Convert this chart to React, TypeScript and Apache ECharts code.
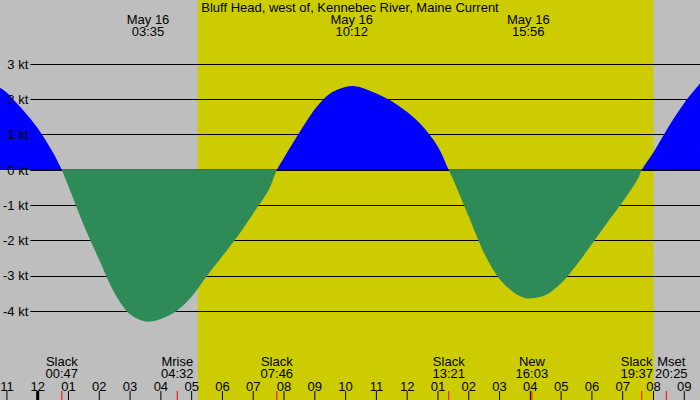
import { useEffect, useRef } from 'react'
import * as echarts from 'echarts'

const title = 'Bluff Head, west of, Kennebec River, Maine Current'
const dateLabel = 'May 16'

// current speed in knots, read off every half hour plus slacks and extremes
// hours are counted from midnight of May 16 (negative = May 15)
const flowHours = [
  -1.224, -1, -0.5, 0, 0.5, 0.783, 1, 1.5, 2, 2.5, 3, 3.583, 4, 4.5, 5, 5.5, 6, 6.5, 7, 7.5, 7.767, 8, 8.5, 9, 9.5,
  10.2, 10.5, 11, 11.5, 12, 12.5, 13, 13.35, 13.5, 14, 14.5, 15, 15.5, 15.933, 16.5, 17, 17.5, 18, 18.5, 19, 19.5,
  19.617, 20, 20.5, 21, 21.51,
]
const flowKnots = [
  2.33, 2.19, 1.72, 1.18, 0.49, 0, -0.47, -1.57, -2.55, -3.49, -4.09, -4.3, -4.22, -4.0, -3.59, -3.0, -2.44, -1.87,
  -1.23, -0.57, 0, 0.35, 1.06, 1.72, 2.17, 2.38, 2.34, 2.17, 1.95, 1.64, 1.24, 0.66, 0, -0.28, -1.32, -2.36, -3.09,
  -3.49, -3.64, -3.54, -3.21, -2.69, -2.1, -1.49, -0.9, -0.24, 0, 0.5, 1.24, 1.9, 2.45,
]

const extremeTimes = ['03:35', '10:12', '15:56']
const eventNames = ['Slack', 'Mrise', 'Slack', 'Slack', 'New', 'Slack', 'Mset']
const eventTimes = ['00:47', '04:32', '07:46', '13:21', '16:03', '19:37', '20:25']
const daylight = ['05:12', '20:00']

const hourTicks = [-1, 0, 1, 2, 3, 4, 5, 6, 7, 8, 9, 10, 11, 12, 13, 14, 15, 16, 17, 18, 19, 20, 21]
const hourTickLabels = [
  '11', '12', '01', '02', '03', '04', '05', '06', '07', '08', '09', '10',
  '11', '12', '01', '02', '03', '04', '05', '06', '07', '08', '09',
]

const W = 700
const H = 400
const GREY = '#bebebe'
const DAY = '#cccc00'
const FLOOD = '#0000ff'
const EBB = '#2e8b57'
const CLEAR = 'rgba(0,0,0,0)'
const FONT = "'Liberation Sans', Arial, Helvetica, sans-serif"

// layout: px per hour / knot, and where 00:00 and 0 kt sit
const PX_HOUR = 30.79
const X0 = 37.7
const PX_KT = 35.29
const Y0 = 170

// crowded labels get pushed apart a little
const eventLabelNudge: Record<number, number> = { 5: -5, 6: 5 }

function toHours(t: string): number {
  const [h, m] = t.split(':').map(Number)
  return h + m / 60
}

function txt(text: string, x: number, y: number) {
  return {
    type: 'text',
    x,
    y,
    style: {
      text,
      align: 'center',
      verticalAlign: 'middle',
      lineHeight: 12,
      fill: '#000',
      fontSize: 13,
      fontFamily: FONT,
    },
  }
}

// fill split at the 0 kt line (grid 0 spans the whole canvas)
function splitFill(above: string, below: string) {
  const o = Y0 / H
  return {
    type: 'linear',
    x: 0,
    y: 0,
    x2: 0,
    y2: H,
    global: true,
    colorStops: [
      { offset: 0, color: above },
      { offset: o, color: above },
      { offset: o, color: below },
      { offset: 1, color: below },
    ],
  }
}

export default function App() {
  const hostRef = useRef<HTMLDivElement | null>(null)

  useEffect(() => {
    document.body.style.margin = '0'
    const host = hostRef.current
    if (!host) return
    const chart = echarts.init(host, undefined, { renderer: 'svg' })

    const flow = flowHours.map((h, i) => [h, flowKnots[i]])
    // kind: 0 hour tick, 1 event tick (red), 2 midnight
    const ticks = [
      ...hourTicks.map((h) => [h, h === 0 ? 2 : 0]),
      ...eventTimes.map((t) => [toHours(t), 1]),
    ]

    const area = (z: number, fill: object) => ({
      type: 'line',
      z,
      silent: true,
      xAxisIndex: 0,
      yAxisIndex: 0,
      data: flow,
      smooth: 0.3,
      showSymbol: false,
      lineStyle: { opacity: 0 },
      areaStyle: { opacity: 1, color: fill },
    })

    chart.setOption({
      animation: false,
      backgroundColor: GREY,
      grid: [
        { left: 0, right: 0, top: 0, bottom: 0 },
        { left: 30, right: 0, top: Y0 - 3 * PX_KT, height: 7 * PX_KT },
      ],
      xAxis: [
        { type: 'value', gridIndex: 0, min: -X0 / PX_HOUR, max: (W - X0) / PX_HOUR, show: false },
        { type: 'value', gridIndex: 1, min: 0, max: 1, show: false },
      ],
      yAxis: [
        { type: 'value', gridIndex: 0, min: -(H - Y0) / PX_KT, max: Y0 / PX_KT, show: false },
        {
          type: 'value',
          gridIndex: 1,
          position: 'left',
          min: -4,
          max: 3,
          interval: 1,
          axisLine: { show: false },
          axisTick: { show: false },
          axisLabel: { show: false },
          splitLine: { lineStyle: { color: '#000', width: 1 } },
        },
        {
          type: 'value',
          gridIndex: 1,
          position: 'left',
          min: -4,
          max: 3,
          interval: 1,
          z: 10,
          axisLine: { show: false },
          axisTick: { show: false },
          splitLine: { show: false },
          axisLabel: { margin: 2, color: '#000', fontSize: 13, fontFamily: FONT, formatter: (v: number) => `${v} kt` },
        },
      ],
      graphic: [{ ...txt(title, W / 2, 7.5), z: 20 }],
      series: [
        {
          type: 'custom',
          z: -1,
          silent: true,
          coordinateSystem: 'cartesian2d',
          xAxisIndex: 0,
          yAxisIndex: 0,
          data: [[toHours(daylight[0]), toHours(daylight[1])]],
          encode: { x: [0, 1] },
          renderItem: (params: any, api: any) => {
            const a = api.coord([api.value(0), 0])
            const b = api.coord([api.value(1), 0])
            const cs = params.coordSys
            return { type: 'rect', shape: { x: a[0], y: cs.y, width: b[0] - a[0], height: cs.height }, style: { fill: DAY } }
          },
        },
        area(2, splitFill(FLOOD, CLEAR)),
        {
          type: 'line',
          z: 3,
          silent: true,
          xAxisIndex: 1,
          yAxisIndex: 1,
          data: [[0, 0], [1, 0]],
          showSymbol: false,
          lineStyle: { color: '#000', width: 1 },
        },
        area(4, splitFill(CLEAR, EBB)),
        {
          type: 'custom',
          z: 5,
          silent: true,
          coordinateSystem: 'cartesian2d',
          xAxisIndex: 0,
          yAxisIndex: 0,
          data: ticks,
          encode: { x: 0 },
          renderItem: (params: any, api: any) => {
            const p = api.coord([api.value(0), 0])
            const cs = params.coordSys
            const bottom = cs.y + cs.height
            const kind = api.value(1)
            const tick = {
              type: 'line',
              shape: { x1: p[0], y1: bottom - 9, x2: p[0], y2: bottom },
              style: { stroke: kind === 1 ? '#ff0000' : '#000', lineWidth: kind === 2 ? 3 : 1 },
              z2: kind === 1 ? 2 : 1,
            }
            if (kind === 1) return tick
            const label = hourTickLabels[hourTicks.indexOf(api.value(0))]
            return { type: 'group', children: [tick, txt(label, p[0], 386)] }
          },
        },
        {
          type: 'custom',
          z: 6,
          silent: true,
          coordinateSystem: 'cartesian2d',
          xAxisIndex: 0,
          yAxisIndex: 0,
          data: extremeTimes.map((t) => [toHours(t), 0]),
          encode: { x: 0 },
          renderItem: (params: any, api: any) => {
            const p = api.coord([api.value(0), 0])
            return txt(`${dateLabel}\n${extremeTimes[params.dataIndex]}`, p[0], 25.75)
          },
        },
        {
          type: 'custom',
          z: 6,
          silent: true,
          coordinateSystem: 'cartesian2d',
          xAxisIndex: 0,
          yAxisIndex: 0,
          data: eventTimes.map((t) => [toHours(t), 0]),
          encode: { x: 0 },
          renderItem: (params: any, api: any) => {
            const p = api.coord([api.value(0), 0])
            const x = p[0] + (eventLabelNudge[params.dataIndex] ?? 0)
            return txt(`${eventNames[params.dataIndex]}\n${eventTimes[params.dataIndex]}`, x, 367.5)
          },
        },
      ],
    })

    return () => {
      chart.dispose()
    }
  }, [])

  return <div ref={hostRef} style={{ width: W, height: H }} />
}
